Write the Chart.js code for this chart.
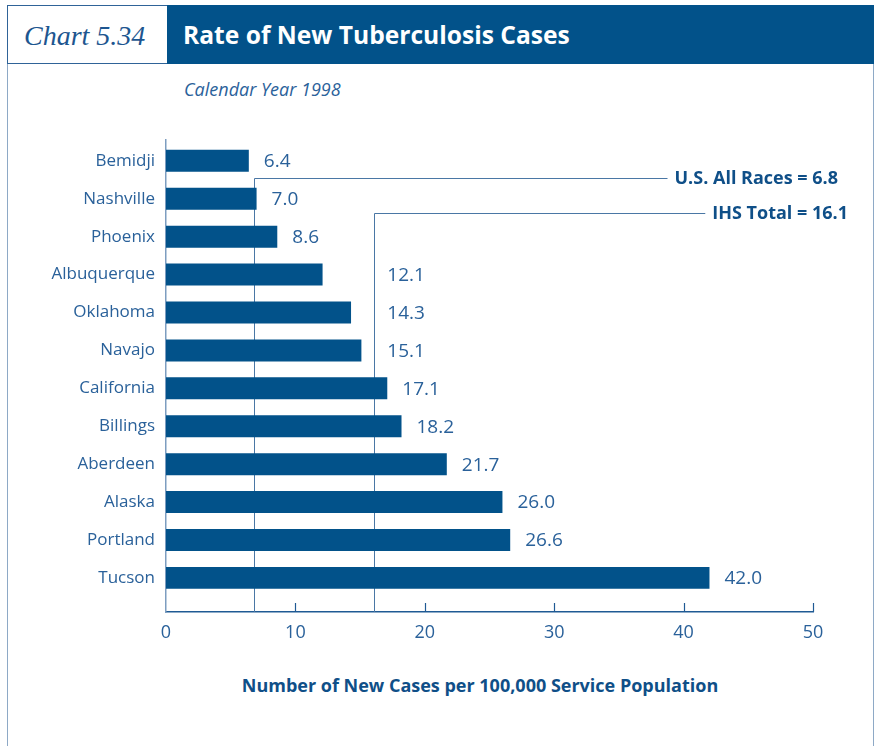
<!DOCTYPE html>
<html>
<head>
<meta charset="utf-8">
<script src="https://cdn.jsdelivr.net/npm/chart.js@4/dist/chart.umd.min.js"></script>
<style>
    body { margin: 0; background: #fff; }
    #page { position: relative; width: 874px; height: 746px; overflow: hidden; font-family: "Open Sans", sans-serif; }
    #frame { position: absolute; left: 7px; top: 64px; width: 865px; height: 700px; border-left: 1.5px solid #8ea9c6; border-right: 2px solid #8ea9c6; }
    #chartNo { position: absolute; left: 7px; top: 5px; width: 160px; height: 59px; border: 1px solid #2f6398; border-right: none; box-sizing: border-box;
        font-family: "Liberation Serif", serif; font-style: italic; font-size: 28px; color: #1d5690; line-height: 60px; padding-left: 16px; }
    #header { position: absolute; left: 167px; top: 5px; width: 707px; height: 59px; background: #02528a; color: #fff;
        font-weight: bold; font-size: 24.6px; line-height: 60px; padding-left: 16px; box-sizing: border-box; }
    #subtitle { position: absolute; left: 184px; top: 77px; font-style: italic; font-size: 18px; color: #2a619a; }
    #xTitle { position: absolute; left: 0; width: 960px; top: 673px; text-align: center; font-weight: bold; font-size: 18px; color: #0f4f88; }
    canvas { position: absolute; left: 0; top: 0; }
</style>
</head>
<body>
<div id="page">
    <div id="frame"></div>
    <div id="chartNo">Chart 5.34</div>
    <div id="header">Rate of New Tuberculosis Cases</div>
    <div id="subtitle">Calendar Year 1998</div>
    <div id="xTitle">Number of New Cases per 100,000 Service Population</div>
    <canvas id="grafico" width="874" height="746"></canvas>
</div>
<script>
const areas = ['Bemidji', 'Nashville', 'Phoenix', 'Albuquerque', 'Oklahoma', 'Navajo',
    'California', 'Billings', 'Aberdeen', 'Alaska', 'Portland', 'Tucson'];
const taxas = [6.4, 7.0, 8.6, 12.1, 14.3, 15.1, 17.1, 18.2, 21.7, 26.0, 26.6, 42.0];
const xTicks = [0, 10, 20, 30, 40, 50];

// reference rates, with the row position where their label sits
const refNomes = ['U.S. All Races', 'IHS Total'];
const refValores = [6.8, 16.1];
const refLinha = [0.45, 1.37];
const refFimTexto = [25, 35];

const AZUL = '#02528a';
const AZUL_TEXTO = '#2a619a';
const AZUL_LINHA = '#4a77a5';

// draws the two reference lines under the bars
const linhasRef = {
    id: 'linhasRef',
    beforeDatasetsDraw(chart) {
        const { ctx, chartArea, scales: { x, y } } = chart;
        ctx.save();
        ctx.font = 'bold 18px "Open Sans"';
        ctx.textBaseline = 'middle';
        ctx.textAlign = 'right';
        refValores.forEach((v, i) => {
            const px = Math.round(x.getPixelForValue(v)) + 0.5;
            const py = Math.round(y.getPixelForValue(refLinha[i])) + 0.5;
            const texto = `${refNomes[i]} = ${v.toFixed(1)}`;
            const fim = chartArea.right + refFimTexto[i];
            const inicio = fim - ctx.measureText(texto).width;
            ctx.strokeStyle = AZUL_LINHA;
            ctx.lineWidth = 1;
            ctx.beginPath();
            ctx.moveTo(px, chartArea.bottom);
            ctx.lineTo(px, py);
            ctx.lineTo(inicio - 7, py);
            ctx.stroke();
            ctx.fillStyle = '#0f4f88';
            ctx.fillText(texto, fim, py);
        });
        ctx.restore();
    }
};

// value labels next to each bar, pushed past the IHS line when they would cross it
const rotulos = {
    id: 'rotulos',
    afterDatasetsDraw(chart) {
        const { ctx, scales: { x } } = chart;
        const meta = chart.getDatasetMeta(0);
        const linhaIHS = x.getPixelForValue(refValores[1]);
        ctx.save();
        ctx.font = '19px "Open Sans"';
        ctx.fillStyle = AZUL_TEXTO;
        ctx.textBaseline = 'middle';
        meta.data.forEach((barra, i) => {
            const texto = taxas[i].toFixed(1);
            let px = barra.x + 15;
            const w = ctx.measureText(texto).width;
            if (barra.x < linhaIHS && px + w > linhaIHS - 5) px = linhaIHS + 13;
            ctx.fillText(texto, px, barra.y + 1);
        });
        ctx.restore();
    }
};

// short tick marks pointing up from the value axis
const marcasX = {
    id: 'marcasX',
    afterDraw(chart) {
        const { ctx, chartArea, scales: { x } } = chart;
        ctx.save();
        ctx.strokeStyle = '#1f5a94';
        ctx.lineWidth = 1.2;
        xTicks.slice(1).forEach(t => {
            const px = Math.round(x.getPixelForValue(t)) + 0.5;
            ctx.beginPath();
            ctx.moveTo(px, chartArea.bottom);
            ctx.lineTo(px, chartArea.bottom - 9);
            ctx.stroke();
        });
        ctx.restore();
    }
};

const ctx = document.getElementById('grafico').getContext('2d');
const grafico = new Chart(ctx, {
    type: 'bar',
    data: {
        datasets: [{
            data: taxas.map((v, i) => ({ x: v, y: i })),
            backgroundColor: AZUL,
            borderWidth: 0,
            barPercentage: 0.58,
            categoryPercentage: 1
        }]
    },
    options: {
        indexAxis: 'y',
        responsive: false,
        animation: false,
        events: [],
        layout: { padding: { top: 140, right: 61, left: 0, bottom: 0 } },
        plugins: { legend: { display: false }, tooltip: { enabled: false } },
        scales: {
            x: {
                type: 'linear',
                min: 0,
                max: 50,
                afterBuildTicks: s => { s.ticks = xTicks.map(v => ({ value: v })); },
                afterFit: s => { s.height = 134; },
                grid: { display: false, drawTicks: false },
                border: { display: true, color: '#1f5a94', width: 1.5 },
                ticks: { color: AZUL_TEXTO, font: { family: 'Open Sans', size: 18 }, padding: 10 }
            },
            y: {
                type: 'linear',
                reverse: true,
                offset: false,
                min: -0.55,
                max: 11.9,
                afterBuildTicks: s => { s.ticks = areas.map((_, i) => ({ value: i })); },
                afterFit: s => { s.width = 166; },
                grid: { display: false, drawTicks: false, offset: false },
                border: { display: true, color: '#7d9dc0', width: 1.5 },
                ticks: {
                    color: AZUL_TEXTO,
                    font: { family: 'Open Sans', size: 17 },
                    padding: 11,
                    callback: v => areas[v]
                }
            }
        }
    },
    plugins: [linhasRef, rotulos, marcasX]
});
</script>
</body>
</html>
